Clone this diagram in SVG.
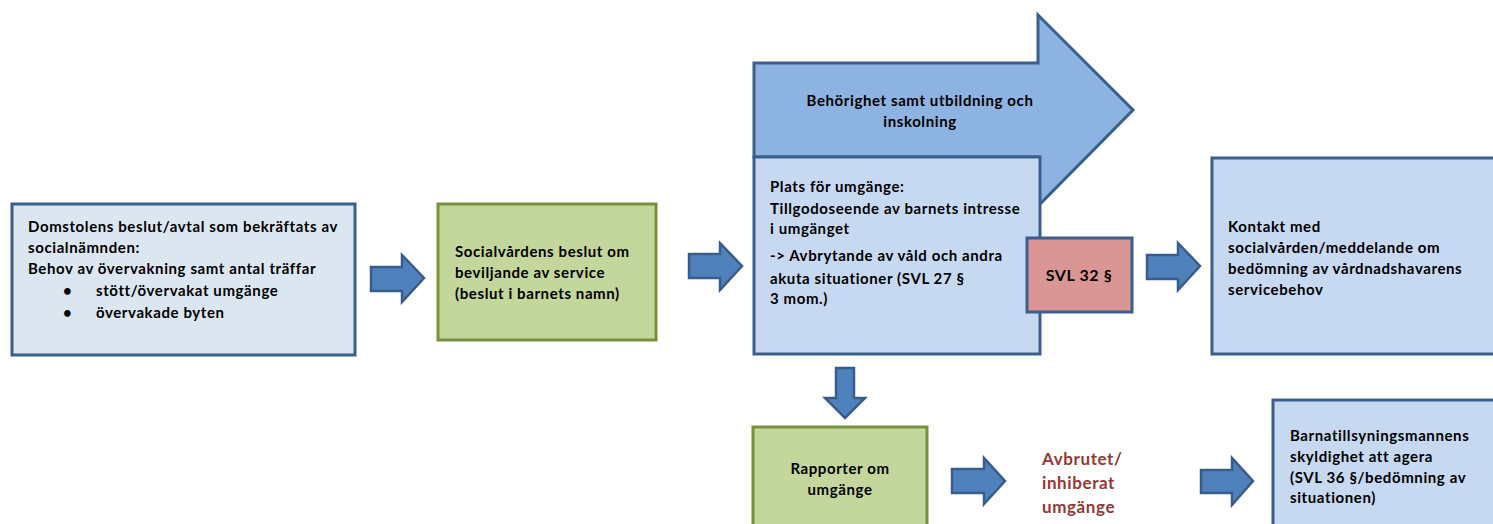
<svg xmlns="http://www.w3.org/2000/svg" width="1493" height="524" viewBox="0 0 1493 524">
<style>
text{font-family:Lato,"Liberation Sans",sans-serif;font-weight:bold;font-size:15px;letter-spacing:0.6px;fill:#000}
.blue{fill:#c6d9f1;stroke:#3a5f8b;stroke-width:3}
.grey{fill:#dce6f1;stroke:#3a5f8b;stroke-width:3}
.green{fill:#c3d69b;stroke:#76923c;stroke-width:3}
.red{fill:#d99694;stroke:#3a5f8b;stroke-width:3}
.big{fill:#8db3e2;stroke:#3a5f8b;stroke-width:3;stroke-linejoin:miter}
.arr{fill:#4f81bd;stroke:#385d8a;stroke-width:2.5;stroke-linejoin:miter}
.c{text-anchor:middle}
.warn{fill:#953735;font-size:17px}
</style>
<rect width="1493" height="524" fill="#fff"/>
<g id="connectors">
<polygon class="arr" points="371,267 402,267 402,255 424,278 402,302 402,291 371,291"/>
<polygon class="arr" points="689,254 720,254 720,243 742,266 720,290 720,278 689,278"/>
<polygon class="arr" points="1147,255 1178,255 1178,243 1200,266 1178,290 1178,279 1147,279"/>
<polygon class="arr" points="836,368 854,368 854,398 865,398 845,418 825,398 836,398"/>
<polygon class="arr" points="952,469 984,469 984,458 1005,481 984,504 984,493 952,493"/>
<polygon class="arr" points="1201,470 1232,470 1232,458 1253,481 1232,505 1232,493 1201,493"/>
</g>
<g id="n1">
<rect class="grey" x="12" y="204" width="343" height="151"/>
<text x="28" y="232">Domstolens beslut/avtal som bekräftats av</text>
<text x="28" y="253">socialnämnden:</text>
<text x="28" y="274">Behov av övervakning samt antal träffar</text>
<text x="63" y="296">•</text><text x="96" y="296">stött/övervakat umgänge</text>
<text x="63" y="318">•</text><text x="96" y="318">övervakade byten</text>
</g>
<g id="n2">
<rect class="green" x="438" y="204" width="218" height="136"/>
<text x="455" y="257">Socialvårdens beslut om</text>
<text x="455" y="278">beviljande av service</text>
<text x="455" y="299">(beslut i barnets namn)</text>
</g>
<g id="n3">
<polygon class="big" points="754,63 1038,63 1038,15 1133,110 1038,206 1038,157 754,157"/>
<text class="c" x="920" y="106">Behörighet samt utbildning och</text>
<text class="c" x="920" y="127">inskolning</text>
</g>
<g id="n4">
<rect class="blue" x="754" y="157" width="286" height="197"/>
<text x="770" y="192">Plats för umgänge:</text>
<text x="770" y="214">Tillgodoseende av barnets intresse</text>
<text x="770" y="234">i umgänget</text>
<text x="770" y="261">-&gt;  Avbrytande av våld och andra</text>
<text x="770" y="284">akuta situationer (SVL 27 §</text>
<text x="770" y="304">3 mom.)</text>
</g>
<g id="n5">
<rect class="red" x="1027" y="238" width="105" height="74"/>
<text class="c" x="1079" y="281" style="font-size:16px">SVL 32 §</text>
</g>
<g id="n6">
<rect class="blue" x="1212" y="158" width="290" height="196"/>
<text x="1228" y="232">Kontakt med</text>
<text x="1228" y="253">socialvården/meddelande om</text>
<text x="1228" y="274">bedömning av vårdnadshavarens</text>
<text x="1228" y="295">servicebehov</text>
</g>
<g id="n7">
<rect class="green" x="753" y="427" width="174" height="110"/>
<text class="c" x="840" y="474">Rapporter om</text>
<text class="c" x="840" y="495">umgänge</text>
</g>
<g id="n8">
<text class="warn" x="1042" y="465">Avbrutet/</text>
<text class="warn" x="1042" y="489">inhiberat</text>
<text class="warn" x="1042" y="513">umgänge</text>
</g>
<g id="n9">
<rect class="blue" x="1273" y="400" width="230" height="140"/>
<text x="1290" y="441">Barnatillsyningsmannens</text>
<text x="1290" y="462">skyldighet att agera</text>
<text x="1290" y="483">(SVL 36 §/bedömning av</text>
<text x="1290" y="503">situationen)</text>
</g>
</svg>
